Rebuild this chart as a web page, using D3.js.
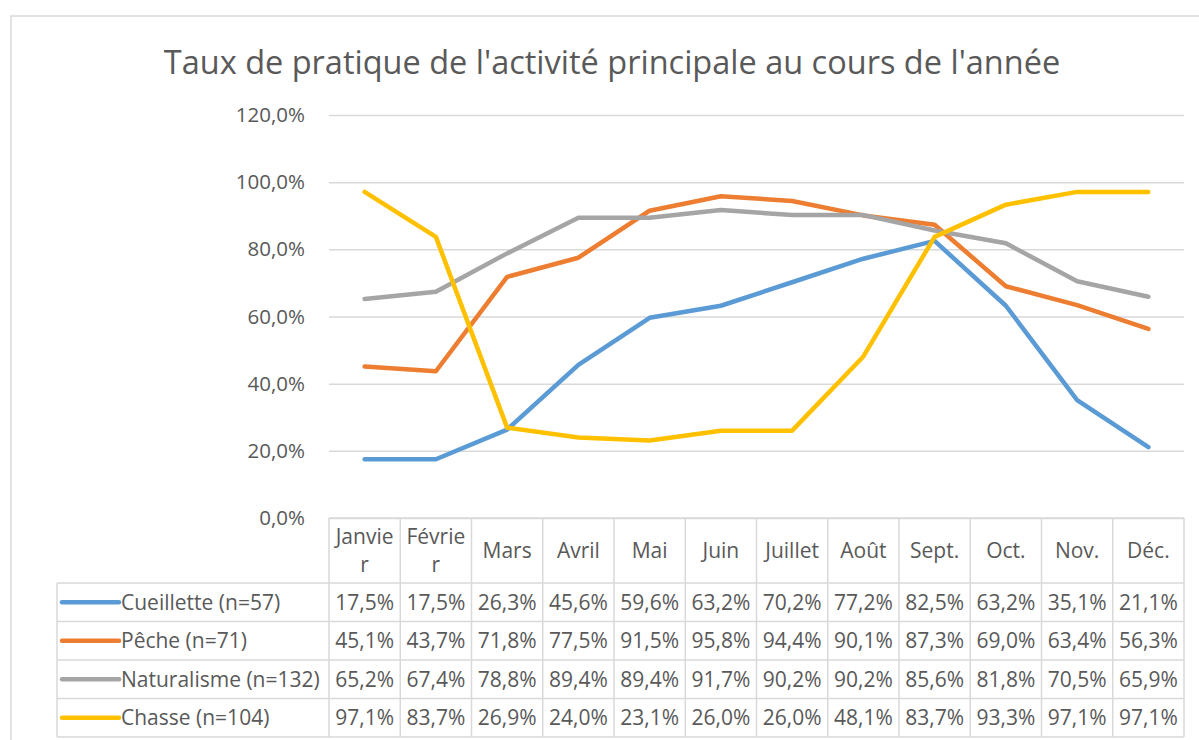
<!DOCTYPE html>
<html>
<head>
<meta charset="utf-8">
<script src="https://cdn.jsdelivr.net/npm/d3@7"></script>
<style>
  body { margin: 0; background: #fff; }
  svg text { font-family: "Open Sans", sans-serif; fill: #595959; }
</style>
</head>
<body>
<svg id="chart" width="1199" height="740"></svg>
<script>
// months, as Excel wraps them in the data table header
var months = ["Janvier", "Février", "Mars", "Avril", "Mai", "Juin", "Juillet", "Août", "Sept.", "Oct.", "Nov.", "Déc."];
var monthLabels = [["Janvie", "r"], ["Févrie", "r"], ["Mars"], ["Avril"], ["Mai"], ["Juin"], ["Juillet"], ["Août"], ["Sept."], ["Oct."], ["Nov."], ["Déc."]];

var seriesNames = ["Cueillette (n=57)", "Pêche (n=71)", "Naturalisme (n=132)", "Chasse (n=104)"];
var seriesColors = ["#5b9bd5", "#ed7d31", "#a5a5a5", "#ffc000"];

var cueillette = [17.5, 17.5, 26.3, 45.6, 59.6, 63.2, 70.2, 77.2, 82.5, 63.2, 35.1, 21.1];
var peche = [45.1, 43.7, 71.8, 77.5, 91.5, 95.8, 94.4, 90.1, 87.3, 69.0, 63.4, 56.3];
var naturalisme = [65.2, 67.4, 78.8, 89.4, 89.4, 91.7, 90.2, 90.2, 85.6, 81.8, 70.5, 65.9];
var chasse = [97.1, 83.7, 26.9, 24.0, 23.1, 26.0, 26.0, 48.1, 83.7, 93.3, 97.1, 97.1];

var yTicks = [0, 20, 40, 60, 80, 100, 120];

var seriesValues = [cueillette, peche, naturalisme, chasse];

const fr = d3.formatLocale({ decimal: ",", thousands: " ", grouping: [3], currency: ["", " €"] });
const pct = v => fr.format(".1f")(v) + "%";

const svg = d3.select("#chart");
const gridColor = "#d9d9d9";

// chart area frame (runs off the right and bottom edges)
svg.append("rect")
    .attr("x", 11).attr("y", 16)
    .attr("width", 1300).attr("height", 900)
    .attr("fill", "none")
    .attr("stroke", gridColor)
    .attr("stroke-width", 1.5);

svg.append("text")
    .attr("x", 612).attr("y", 74)
    .attr("text-anchor", "middle")
    .attr("font-size", "32.5px")
    .text("Taux de pratique de l'activité principale au cours de l'année");

const plotLeft = 329, plotRight = 1184;
const plotTop = 115, plotBottom = 518;

const x = d3.scaleBand().domain(months).range([plotLeft, plotRight]).padding(0);
const y = d3.scaleLinear().domain([0, 120]).range([plotBottom, plotTop]);

// y axis + gridlines
const yAxis = svg.append("g")
    .attr("transform", `translate(${plotLeft},0)`)
    .call(d3.axisLeft(y)
        .tickValues(yTicks)
        .tickSizeInner(-(plotRight - plotLeft))
        .tickSizeOuter(0)
        .tickPadding(24)
        .tickFormat(pct));
yAxis.select(".domain").remove();
yAxis.selectAll("line").attr("stroke", gridColor).attr("stroke-width", 1.5);
yAxis.selectAll("text")
    .attr("font-size", "20.5px")
    .attr("fill", "#595959")
    .attr("font-family", "Open Sans, sans-serif");

// lines
const line = d3.line()
    .x((d, i) => x(months[i]) + x.bandwidth() / 2)
    .y(d => y(d));

svg.selectAll(".series")
    .data(seriesValues)
    .enter().append("path")
    .attr("class", "series")
    .attr("d", d => line(d))
    .attr("fill", "none")
    .attr("stroke", (d, i) => seriesColors[i])
    .attr("stroke-width", 4.5)
    .attr("stroke-linecap", "round")
    .attr("stroke-linejoin", "round");

// data table
const headBottom = 583;
const rowH = 38.5;
const legendLeft = 57;
const tableBottom = headBottom + rowH * seriesNames.length;
const tbl = svg.append("g").attr("stroke", gridColor).attr("stroke-width", 1.5);

tbl.append("line").attr("x1", plotLeft).attr("x2", plotRight).attr("y1", plotBottom).attr("y2", plotBottom);
for (let r = 0; r <= seriesNames.length; r++) {
    let yy = headBottom + r * rowH;
    tbl.append("line").attr("x1", legendLeft).attr("x2", plotRight).attr("y1", yy).attr("y2", yy);
}
tbl.append("line").attr("x1", legendLeft).attr("x2", legendLeft).attr("y1", headBottom).attr("y2", tableBottom);
months.forEach((m, i) => {
    tbl.append("line").attr("x1", x(m)).attr("x2", x(m)).attr("y1", plotBottom).attr("y2", tableBottom);
});
tbl.append("line").attr("x1", plotRight).attr("x2", plotRight).attr("y1", plotBottom).attr("y2", tableBottom);

// header labels
const headMid = (plotBottom + headBottom) / 2;
months.forEach((m, i) => {
    let lines = monthLabels[i];
    let t = svg.append("text")
        .attr("text-anchor", "middle")
        .attr("font-size", "21px");
    lines.forEach((s, k) => {
        t.append("tspan")
            .attr("x", x(m) + x.bandwidth() / 2)
            .attr("y", headMid + (k - (lines.length - 1) / 2) * 28)
            .attr("dy", "0.35em")
            .text(s);
    });
});

// rows
seriesNames.forEach((name, r) => {
    let cy = headBottom + r * rowH + rowH / 2;
    svg.append("line")
        .attr("x1", 62).attr("x2", 119)
        .attr("y1", cy).attr("y2", cy)
        .attr("stroke", seriesColors[r])
        .attr("stroke-width", 4.5)
        .attr("stroke-linecap", "round");
    svg.append("text")
        .attr("x", 121).attr("y", cy).attr("dy", "0.35em")
        .attr("font-size", "21px")
        .text(name);
    seriesValues[r].forEach((v, i) => {
        svg.append("text")
            .attr("x", x(months[i]) + x.bandwidth() / 2)
            .attr("y", cy).attr("dy", "0.35em")
            .attr("text-anchor", "middle")
            .attr("font-size", "21px")
            .text(pct(v));
    });
});
</script>
</body>
</html>
